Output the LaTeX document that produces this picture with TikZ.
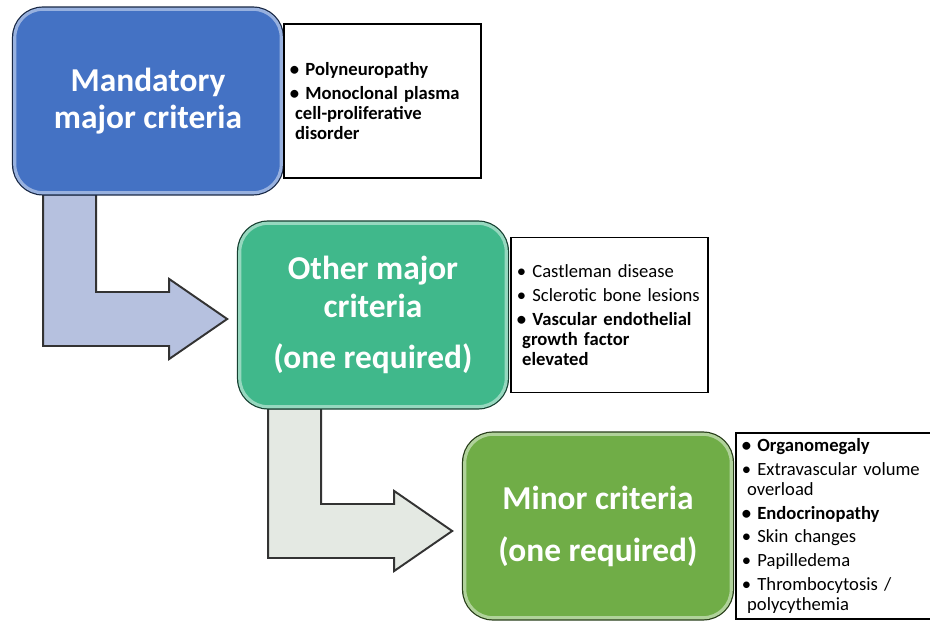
\documentclass[tikz,border=0pt]{standalone}
\usepackage{fontspec}
\setmainfont{Carlito}
\usepackage{tikz}
\usetikzlibrary{calc,positioning,backgrounds}

\definecolor{mandblue}{HTML}{4472C4}
\definecolor{otherteal}{HTML}{40B88B}
\definecolor{minorgreen}{HTML}{70AD47}
\definecolor{arrowblue}{HTML}{B6C1DF}
\definecolor{arrowgray}{HTML}{E4E9E3}

\newcommand{\listfont}{\fontsize{10.6}{11.4}\selectfont\hyphenpenalty=10000\relax
	\spaceskip=0.22em plus 0.1em minus 0.05em\relax}

\begin{document}
\begin{tikzpicture}[x=0.02cm, y=-0.02cm,
		critbox/.style={rounded corners=16pt, minimum width=5.33cm, minimum height=3.67cm,
			inner sep=0pt, align=center, text=white, font=\fontsize{19}{21.5}\selectfont\bfseries,
			fill=#1, draw=#1!55!white, line width=1.8pt,
			preaction={draw=#1!35!black, line width=3.2pt}},
		listbox/.style={draw=black, line width=1.1pt, fill=white, anchor=west,
			text width=105pt, inner xsep=3.5pt, inner ysep=0pt, align=left, font=\listfont},
		elbow/.style={draw=black!80, line width=1.1pt, line join=miter}]

		\useasboundingbox (0,0) rectangle (930,621);

		\node[critbox=mandblue] (mand) at (148,101) {Mandatory\\major criteria};
		\node[critbox=otherteal] (other) at (373,315) {Other major\\criteria\\[8pt](one required)};
		\node[critbox=minorgreen] (minor) at (598,526) {Minor criteria\\[8pt](one required)};

		\node[listbox, minimum height=3.08cm] (mandlist) at (mand.east)
			{\bfseries\textbullet{} Polyneuropathy\\[2.2pt]\textbullet{} Monoclonal plasma\\\hspace*{3pt}cell-proliferative\\\hspace*{3pt}disorder};
		\node[listbox, minimum height=3.1cm] (otherlist) at ($(other.east)+(2,0)$)
			{\textbullet{} Castleman disease\\[2.2pt]\textbullet{} Sclerotic bone lesions\\[2.2pt]\bfseries\textbullet{} Vascular endothelial\\\hspace*{3pt}growth factor\\\hspace*{3pt}elevated};
		\node[listbox, minimum height=3.72cm] (minorlist) at ($(minor.east)+(2,0)$)
			{\textbf{\textbullet{} Organomegaly}\\[2.2pt]\textbullet{} Extravascular volume\\\hspace*{3pt}overload\\[2.2pt]\textbf{\textbullet{} Endocrinopathy}\\[2.2pt]\textbullet{} Skin changes\\[2.2pt]\textbullet{} Papilledema\\[2.2pt]\textbullet{} Thrombocytosis /\\\hspace*{3pt}polycythemia};

		\coordinate (a1s) at ($(mand.south west)+(30,0)$);
		\coordinate (a1r) at ($(a1s)+(53,0)$);
		\coordinate (a1t) at ($(other.west)+(-11,4)$);
		\coordinate (a1bt) at ($(a1t)+(-58,-27)$);
		\coordinate (a1bb) at ($(a1t)+(-58,27)$);

		\coordinate (a2s) at ($(other.south west)+(30,0)$);
		\coordinate (a2r) at ($(a2s)+(53,0)$);
		\coordinate (a2t) at ($(minor.west)+(-11,5)$);
		\coordinate (a2bt) at ($(a2t)+(-58,-27)$);
		\coordinate (a2bb) at ($(a2t)+(-58,27)$);

		\begin{scope}[on background layer]
			\draw[elbow, fill=arrowblue] (a1t) -- ++(-58,-40) -- (a1bt) -- (a1r |- a1bt) -- (a1r) -- (a1s) -- (a1s |- a1bb) -- (a1bb) -- ++(0,13) -- cycle;
			\draw[elbow, fill=arrowgray] (a2t) -- ++(-58,-40) -- (a2bt) -- (a2r |- a2bt) -- (a2r) -- (a2s) -- (a2s |- a2bb) -- (a2bb) -- ++(0,13) -- cycle;
		\end{scope}
	\end{tikzpicture}
\end{document}
